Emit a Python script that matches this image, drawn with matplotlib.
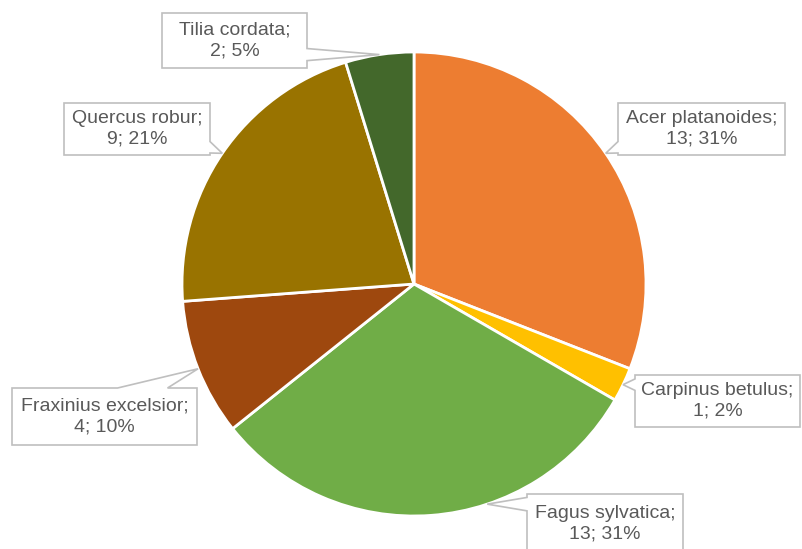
import numpy as np
import matplotlib.pyplot as plt
from matplotlib.patches import Polygon

# data
species = ["Acer platanoides", "Carpinus betulus", "Fagus sylvatica",
           "Fraxinius excelsior", "Quercus robur", "Tilia cordata"]
counts = [13, 1, 13, 4, 9, 2]
colors = ["#ED7D31", "#FFC000", "#70AD47", "#9E480E", "#997300", "#43682B"]

# label boxes in pixel coords (x0, y0, x1, y1), top-left origin
boxes = [(618, 103, 785, 155), (635, 375, 800, 427), (527, 494, 683, 555),
         (12, 388, 197, 445), (64, 103, 210, 155), (162, 13, 307, 68)]
tip_override = {2: -71.6}

W, H = 802, 549
cx, cy, R = 414, 265, 232

fig = plt.figure(figsize=(W / 100, H / 100), dpi=100)
ax = fig.add_axes([0, 0, 1, 1])

ax.pie(counts, colors=colors, startangle=90, counterclock=False,
       center=(cx, cy), radius=R, frame=True,
       wedgeprops=dict(edgecolor="white", linewidth=2))
ax.set_xlim(0, W)
ax.set_ylim(0, H)
ax.set_aspect("equal")
ax.axis("off")

total = sum(counts)
angles = 90 - np.cumsum([0] + counts) / total * 360
edge = "#BFBFBF"


def callout(box, tip, text):
    x0, y0, x1, y1 = box
    tx, ty = tip
    gaps = {"left": x0 - tx, "right": tx - x1, "top": y0 - ty, "bottom": ty - y1}
    side = max(gaps, key=gaps.get)
    if side in ("left", "right"):
        L = 0.22 * (y1 - y0)
        c = min(max(ty, y0 + L / 2 + 2), y1 - L / 2 - 2)
        xs = x0 if side == "left" else x1
        base = [(xs, c - L / 2), (xs, c + L / 2)]
    else:
        L = 0.27 * (x1 - x0)
        c = min(max(tx, x0 + L / 2 + 2), x1 - L / 2 - 2) - L * 0.55
        ys = y0 if side == "top" else y1
        base = [(c - L / 2, ys), (c + L / 2, ys)]
    corners = {"top": [(x0, y0), (x1, y0)], "right": [(x1, y0), (x1, y1)],
               "bottom": [(x1, y1), (x0, y1)], "left": [(x0, y1), (x0, y0)]}
    pts = []
    for s in ["top", "right", "bottom", "left"]:
        a, b = corners[s]
        pts.append(a)
        if s == side:
            b0, b1 = base
            da = np.hypot(b0[0] - a[0], b0[1] - a[1])
            db = np.hypot(b1[0] - a[0], b1[1] - a[1])
            if da > db:
                b0, b1 = b1, b0
            pts += [b0, (tx, ty), b1]
    pts = [(px, H - py) for px, py in pts]
    ax.add_patch(Polygon(pts, closed=True, facecolor="white", edgecolor=edge,
                         linewidth=1.2, zorder=5))
    # box clipped by the figure edge: keep text at the usual offset from the top
    ty_text = (y0 + y1) / 2 if y1 <= H else y0 + 30
    ax.text((x0 + x1) / 2, H - ty_text, text, ha="center", va="center",
            fontsize=14, color="#595959", family="Liberation Sans",
            linespacing=1.3, zorder=6)


for i, (name, n) in enumerate(zip(species, counts)):
    mid = (angles[i] + angles[i + 1]) / 2
    mid = tip_override.get(i, mid)
    t = np.deg2rad(mid)
    tip = (cx + R * np.cos(t), H - (cy + R * np.sin(t)))
    pct = round(n / total * 100)
    callout(boxes[i], tip, f"{name};\n{n}; {pct}%")

fig.savefig("out.png", dpi=100)
